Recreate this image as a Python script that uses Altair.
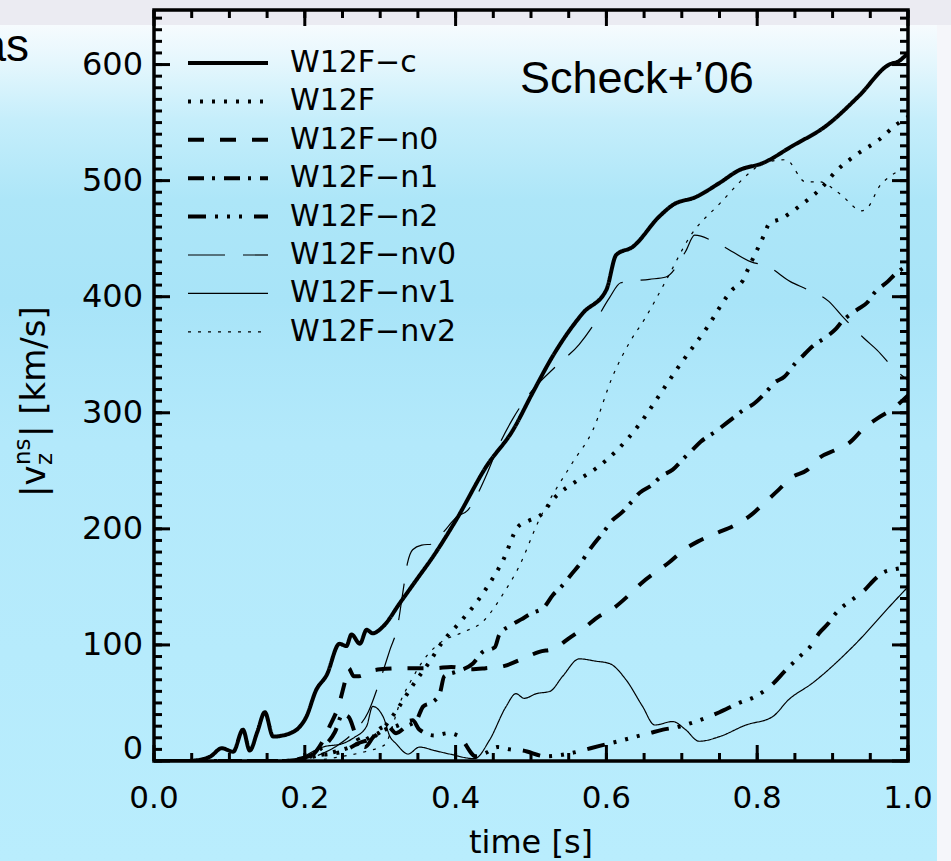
import altair as alt
import pandas as pd

# ---------------- data ----------------
NAMES = ["W12F−c", "W12F", "W12F−n0", "W12F−n1", "W12F−n2",
         "W12F−nv0", "W12F−nv1", "W12F−nv2"]

c_t = [0, 0.04, 0.061, 0.075, 0.09, 0.105, 0.118, 0.127, 0.137, 0.147, 0.158, 0.171,
       0.181, 0.191, 0.202, 0.215, 0.229, 0.246, 0.255, 0.262, 0.273, 0.282, 0.29,
       0.304, 0.326, 0.348, 0.370, 0.401, 0.441, 0.476, 0.502, 0.529, 0.569, 0.600,
       0.613, 0.635, 0.670, 0.688, 0.719, 0.750, 0.776, 0.807, 0.847, 0.891, 0.935,
       0.975, 0.988, 1.0]
c_v = [0, 0, 1, 4, 11, 8, 27, 9, 25, 42, 21, 22, 24, 28, 38, 61, 74, 101, 99, 109,
       101, 113, 110, 116, 136, 156, 176, 208, 254, 285, 317, 349, 386, 406, 436,
       443, 469, 479, 486, 498, 509, 515, 530, 547, 573, 600, 603, 610]

f_t = [0, 0.18, 0.2, 0.22, 0.24, 0.26, 0.28, 0.29, 0.30, 0.31, 0.319, 0.343, 0.366,
       0.383, 0.405, 0.427, 0.445, 0.463, 0.483, 0.497, 0.511, 0.533, 0.56, 0.586,
       0.613, 0.646, 0.67, 0.694, 0.733, 0.767, 0.781, 0.788, 0.809, 0.816, 0.831,
       0.858, 0.884, 0.906, 0.933, 0.961, 0.986, 1.0]
f_v = [0, 0, 3, 5, 8, 12, 18, 22, 25, 33, 41, 65, 86, 103, 119, 136, 153, 173, 202,
       207, 211, 228, 241, 252, 267, 292, 315, 338, 373, 406, 414, 424, 453, 463, 467,
       479, 493, 509, 523, 535, 549, 555]

n0_t = [0, 0.19, 0.21, 0.222, 0.233, 0.245, 0.252, 0.258, 0.265, 0.272, 0.285, 0.30,
        0.33, 0.35, 0.372, 0.394, 0.42, 0.44, 0.465, 0.485, 0.511, 0.531, 0.553,
        0.569, 0.591, 0.608, 0.63, 0.646, 0.666, 0.683, 0.703, 0.721, 0.745, 0.77,
        0.792, 0.809, 0.829, 0.845, 0.867, 0.882, 0.904, 0.922, 0.942, 0.959, 0.981, 1.0]
n0_v = [0, 0, 5, 15, 30, 48, 65, 80, 73, 73, 77, 79, 80, 80, 80, 81, 79, 80, 82, 87,
        94, 97, 107, 114, 125, 131, 143, 153, 163, 171, 182, 189, 196, 203, 212, 222,
        234, 244, 251, 261, 268, 274, 287, 295, 304, 315]

n1_t = [0, 0.17, 0.2, 0.22, 0.24, 0.25, 0.258, 0.268, 0.28, 0.29, 0.30, 0.31, 0.321,
        0.335, 0.348, 0.357, 0.37, 0.379, 0.385, 0.401, 0.423, 0.436, 0.452, 0.458,
        0.474, 0.487, 0.5, 0.518, 0.529, 0.54, 0.555, 0.564, 0.58, 0.597, 0.606, 0.622,
        0.633, 0.644, 0.661, 0.672, 0.688, 0.703, 0.714, 0.725, 0.745, 0.767, 0.781,
        0.796, 0.812, 0.823, 0.836, 0.851, 0.862, 0.873, 0.893, 0.904, 0.913, 0.933,
        0.946, 0.955, 0.973, 0.984, 1.0]
n1_v = [0, 0, 3, 10, 25, 40, 38, 22, 12, 20, 28, 30, 24, 30, 35, 47, 51, 58, 73, 77,
        84, 94, 98, 109, 117, 122, 127, 133, 143, 150, 162, 169, 184, 198, 206, 215,
        223, 231, 238, 245, 251, 261, 268, 275, 284, 295, 302, 308, 318, 326, 331, 343,
        350, 357, 366, 372, 379, 389, 395, 403, 413, 420, 427]

n2_t = [0, 0.17, 0.2, 0.22, 0.25, 0.27, 0.29, 0.30, 0.321, 0.343, 0.352, 0.372, 0.39,
        0.405, 0.427, 0.44, 0.456, 0.472, 0.489, 0.52, 0.538, 0.555, 0.573, 0.591,
        0.622, 0.639, 0.657, 0.675, 0.692, 0.723, 0.75, 0.776, 0.796, 0.82, 0.836,
        0.858, 0.871, 0.882, 0.895, 0.904, 0.928, 0.942, 0.955, 0.966, 0.981, 1.0]
n2_v = [0, 0, 2, 5, 8, 15, 20, 25, 30, 35, 27, 22, 24, 21, 4, 7, 12, 10, 9, 4, 5, 7,
        10, 13, 18, 21, 24, 27, 29, 35, 42, 50, 55, 66, 77, 91, 99, 110, 119, 127,
        140, 147, 156, 162, 165, 167]

nv0_t = [0, 0.2, 0.211, 0.24, 0.265, 0.284, 0.3, 0.313, 0.323, 0.33, 0.336, 0.343,
         0.355, 0.37, 0.385, 0.401, 0.416, 0.44, 0.456, 0.476, 0.50, 0.533, 0.564,
         0.58, 0.604, 0.619, 0.657, 0.679, 0.705, 0.717, 0.75, 0.792, 0.814, 0.844,
         0.867, 0.895, 0.913, 0.942, 0.959, 0.983, 1.0]
nv0_v = [0, 0, 3, 12, 25, 42, 70, 96, 116, 145, 170, 182, 186, 187, 198, 210, 216, 245,
         270, 295, 318, 340, 359, 373, 399, 412, 415, 417, 439, 453, 445, 430, 426, 413,
         406, 396, 383, 364, 354, 337, 328]

nv1_t = [0, 0.19, 0.202, 0.224, 0.25, 0.265, 0.282, 0.29, 0.304, 0.313, 0.321, 0.337,
         0.352, 0.372, 0.392, 0.425, 0.445, 0.467, 0.48, 0.491, 0.507, 0.525, 0.542,
         0.564, 0.586, 0.604, 0.626, 0.648, 0.664, 0.688, 0.705, 0.723, 0.75, 0.785,
         0.82, 0.842, 0.873, 0.926, 0.984, 1.0]
nv1_v = [0, 0, 5, 12, 15, 20, 30, 47, 38, 21, 15, 6, 12, 9, 6, 2, 18, 47, 58, 54, 58,
         60, 73, 88, 86, 84, 70, 47, 31, 34, 27, 17, 21, 31, 38, 53, 67, 98, 139, 150]

nv2_t = [0, 0.2, 0.25, 0.28, 0.3, 0.306, 0.328, 0.339, 0.361, 0.38, 0.41, 0.436, 0.465,
         0.483, 0.511, 0.555, 0.582, 0.608, 0.632, 0.65, 0.68, 0.712, 0.75, 0.794,
         0.807, 0.838, 0.864, 0.882, 0.909, 0.939, 0.948, 0.962, 0.977, 1.0]
nv2_v = [0, 0, 4, 8, 12, 14, 53, 67, 90, 102, 111, 120, 146, 166, 208, 257, 285, 331,
         362, 380, 415, 453, 480, 509, 515, 518, 499, 499, 489, 474, 478, 495, 504, 512]

SERIES = [(NAMES[0], c_t, c_v), (NAMES[1], f_t, f_v), (NAMES[2], n0_t, n0_v),
          (NAMES[3], n1_t, n1_v), (NAMES[4], n2_t, n2_v), (NAMES[5], nv0_t, nv0_v),
          (NAMES[6], nv1_t, nv1_v), (NAMES[7], nv2_t, nv2_v)]

X_MAJOR = [0.0, 0.2, 0.4, 0.6, 0.8, 1.0]
X_MINOR = [round(i * 0.05, 2) for i in range(21)]
Y_MAJOR = [0, 100, 200, 300, 400, 500, 600]
Y_MINOR = [i * 10 for i in range(65)]

# ---------------- layout / style ----------------
W, H = 754, 751
YMAX = 647
FONT = "DejaVu Sans"
THIN_EXPR = "indexof(datum.series, 'nv') >= 0 ? 1.2 : 4"
MAJ, MIN = 16, 8

df = pd.concat([pd.DataFrame({"series": n, "t": ts, "v": vs}) for n, ts, vs in SERIES],
               ignore_index=True)

xs = alt.Scale(domain=[0, 1], nice=False, zero=False)
ys = alt.Scale(domain=[0, YMAX], nice=False, zero=False)
dash_scale = alt.Scale(domain=NAMES, range=[[1, 0], [3, 9], [16, 16], [16, 8, 3, 9],
                                            [18, 9, 3, 9, 3, 9, 3, 12], [37, 18],
                                            [1, 0], [3, 7]])

# ---------- inward tick marks on all four sides (one table, one rule layer) ----------
tick_parts = []
for kind, vals, major in (("x", X_MINOR, 0), ("x", X_MAJOR, 1),
                          ("y", Y_MINOR, 0), ("y", Y_MAJOR, 1)):
    for side in ("a", "b"):
        tick_parts.append(pd.DataFrame({"val": vals, "kind": kind, "side": side,
                                        "major": major}))
tick_df = pd.concat(tick_parts, ignore_index=True)

tick_layer = alt.Chart(tick_df).transform_calculate(
    px=f"datum.major == 1 ? {MAJ} : {MIN}"
).transform_calculate(
    x0="datum.kind == 'x' ? datum.val : (datum.side == 'a' ? 0 : 1)",
    x1=f"datum.kind == 'x' ? datum.val : (datum.side == 'a' ? datum.px / {W} : 1 - datum.px / {W})",
    y0=f"datum.kind == 'y' ? datum.val : (datum.side == 'a' ? 0 : {YMAX})",
    y1=f"datum.kind == 'y' ? datum.val : (datum.side == 'a' ? datum.px * {YMAX} / {H} : {YMAX} - datum.px * {YMAX} / {H})",
).mark_rule(color="black", strokeWidth=3, strokeCap="butt").encode(
    x=alt.X("x0:Q", scale=xs, axis=None), x2="x1:Q",
    y=alt.Y("y0:Q", scale=ys, axis=None), y2="y1:Q",
)

# ---------- tick labels as text marks placed through the scales ----------
xlab_layer = alt.Chart(pd.DataFrame({"val": X_MAJOR})).transform_calculate(
    lab="format(datum.val, '.1f')"
).mark_text(font=FONT, fontSize=31, align="center", baseline="top",
            color="black").encode(
    x=alt.X("val:Q", scale=xs, axis=None), y=alt.value(H + 23), text="lab:N")

ylab_layer = alt.Chart(pd.DataFrame({"val": Y_MAJOR})).transform_calculate(
    lab="'' + datum.val",
    yl=f"datum.val == 0 ? {12 * YMAX / H} : datum.val"
).mark_text(font=FONT, fontSize=32, align="right", baseline="middle",
            color="black").encode(
    y=alt.Y("yl:Q", scale=ys, axis=None), x=alt.value(-11), text="lab:N")

lines = alt.Chart(df).transform_calculate(lw=THIN_EXPR).mark_line(
    color="black", interpolate="monotone", clip=True,
    strokeCap="butt", strokeJoin="round").encode(
    x=alt.X("t:Q", scale=xs, axis=None),
    y=alt.Y("v:Q", scale=ys, axis=None),
    strokeDash=alt.StrokeDash("series:N", scale=dash_scale, legend=None),
    strokeWidth=alt.StrokeWidth("lw:Q", scale=None, legend=None),
)

# custom legend (rows placed through the y scale)
leg_df = pd.DataFrame({"series": NAMES, "idx": list(range(len(NAMES)))})
leg = alt.Chart(leg_df).transform_calculate(
    ly=f"{YMAX}*(1-(53+38.4*datum.idx)/{H})", lw=THIN_EXPR)
leg_rules = leg.mark_rule(color="black", strokeCap="butt").encode(
    x=alt.value(34), x2=alt.value(114),
    y=alt.Y("ly:Q", scale=ys, axis=None),
    strokeDash=alt.StrokeDash("series:N", scale=dash_scale, legend=None),
    strokeWidth=alt.StrokeWidth("lw:Q", scale=None, legend=None),
)
leg_text = leg.mark_text(align="left", baseline="middle", font=FONT, fontSize=30,
                         color="black").encode(
    x=alt.value(136), y=alt.Y("ly:Q", scale=ys, axis=None), text="series:N")

# background
one = alt.Chart(pd.DataFrame({"k": [0]}))
grad = alt.LinearGradient(
    gradient="linear", x1=0, x2=0, y1=0, y2=1,
    stops=[alt.GradientStop(offset=0, color="#f6fbfe"),
           alt.GradientStop(offset=0.042, color="#e6f7fd"),
           alt.GradientStop(offset=0.114, color="#c5eefb"),
           alt.GradientStop(offset=0.209, color="#ade6f8"),
           alt.GradientStop(offset=0.33, color="#a8e4f8"),
           alt.GradientStop(offset=0.5, color="#b3e9fb"),
           alt.GradientStop(offset=1, color="#b9edfd")])
bg = one.mark_rect(color=grad, clip=False).encode(
    x=alt.value(-154), x2=alt.value(783), y=alt.value(15), y2=alt.value(851))
top_strip = one.mark_rect(color="#ebebf2", clip=False).encode(
    x=alt.value(-154), x2=alt.value(797), y=alt.value(-10), y2=alt.value(15))
right_strip = one.mark_rect(color="#f5f6fa", clip=False).encode(
    x=alt.value(783), x2=alt.value(797), y=alt.value(15), y2=alt.value(851))

frame = one.mark_rect(filled=False, stroke="black", strokeWidth=3.5, clip=False).encode(
    x=alt.value(0), x2=alt.value(W), y=alt.value(0), y2=alt.value(H))

# texts
scheck = one.mark_text(text="Scheck+’06", font="Liberation Sans", fontSize=45,
                       align="left", baseline="alphabetic", color="black").encode(
    x=alt.value(366), y=alt.value(83))
as_txt = one.mark_text(text="as", font="Liberation Sans", fontSize=46, align="right",
                       baseline="alphabetic", color="black").encode(
    x=alt.value(-125), y=alt.value(51))
x_title = one.mark_text(text="time [s]", font=FONT, fontSize=32, align="center",
                        baseline="alphabetic", color="black").encode(
    x=alt.value(377), y=alt.value(843))


def ytxt(s, size, x, y):
    return one.mark_text(text=s, font=FONT, fontSize=size, align="left",
                         baseline="alphabetic", angle=270, color="black").encode(
        x=alt.value(x), y=alt.value(y))


YB = -109  # baseline of the rotated y title (plot coordinates)
y_title = [ytxt("|v", 34, YB, 487), ytxt("z", 23, YB + 7, 455),
           ytxt("ns", 23, YB - 15, 455), ytxt("|  [km/s]", 34, YB, 427)]

chart = alt.layer(
    bg, top_strip, right_strip, lines, leg_rules, leg_text, tick_layer, frame,
    xlab_layer, ylab_layer, scheck, as_txt, x_title, *y_title
).properties(
    width=W, height=H,
    padding={"left": 154, "top": 10, "right": 951 - 154 - W, "bottom": 861 - 10 - H},
    autosize=alt.AutoSizeParams(type="none"),
    background="white",
).configure_view(stroke="transparent")

chart.save("out.html", embed_options={"renderer": "svg", "actions": False})
